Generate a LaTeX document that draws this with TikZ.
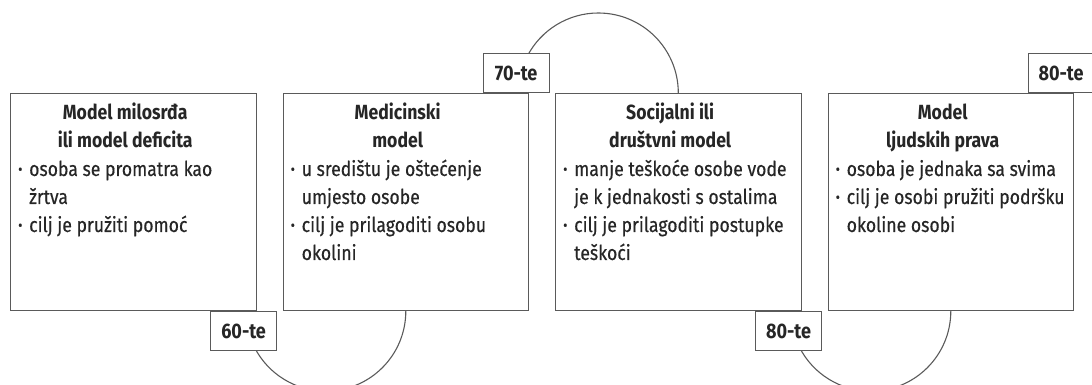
\documentclass[tikz,border=0pt]{standalone}
\usepackage{fontspec}
\setmainfont{Fira Sans}[FakeStretch=0.86, UprightFeatures={FakeBold=0.4}]
\definecolor{txtc}{HTML}{262626}
\definecolor{linec}{HTML}{5A5A5A}
\newcommand\bpt[1]{\par\noindent\hangindent=11pt\hangafter=1\makebox[11pt][l]{\raisebox{0.15ex}{\fontsize{15}{15}\selectfont •}}{\let\\\newline #1}\par}
\newcommand\boxtext[2]{\parbox[t]{240pt}{\fontsize{20.5}{28}\selectfont{\centering\rightskip=26pt plus 1fil\bfseries #1\par}\raggedright #2\par}}
\tikzset{
  box/.style={draw=linec, line width=1.1pt, fill=white, minimum width=245.5pt, minimum height=217pt, anchor=north west, inner sep=0pt},
  txt/.style={inner sep=0pt, anchor=base west, text=txtc},
  lab/.style={draw=linec, line width=1.1pt, fill=white, minimum width=66pt, minimum height=39pt, inner sep=0pt, text=txtc, font=\bfseries\fontsize{21}{21}\selectfont},
  conn/.style={draw=linec, line width=1.1pt}
}
\begin{document}
\begin{tikzpicture}[x=1pt,y=-1pt]
\useasboundingbox (0,0) rectangle (1092,385);
\clip (0,0) rectangle (1092,385);
% boxes
\node[box] (b1) at (10,93) {};
\node[box] (b2) at (282.5,93) {};
\node[box] (b3) at (555,93) {};
\node[box] (b4) at (827.5,93) {};
% connectors (arcs)
\draw[conn] (b2.south) arc[start angle=0, end angle=-153, radius=80pt];
\draw[conn] (b3.north) arc[start angle=0, end angle=153, radius=80pt];
\draw[conn] (b4.south) arc[start angle=0, end angle=-153, radius=80pt];
% texts
\node[txt] (t1) at ([xshift=8pt,yshift=-27pt]b1.north west) {\boxtext{Model milosrđa\\ili model deficita}{\bpt{osoba se promatra kao\\žrtva}\bpt{cilj je pružiti pomoć}}};
\node[txt] (t2) at ([xshift=8pt,yshift=-27pt]b2.north west) {\boxtext{Medicinski\\model}{\bpt{u središtu je oštećenje\\umjesto osobe}\bpt{cilj je prilagoditi osobu\\okolini}}};
\node[txt] (t3) at ([xshift=8pt,yshift=-27pt]b3.north west) {\boxtext{Socijalni ili\\društvni model}{\bpt{manje teškoće osobe vode\\je k jednakosti s ostalima}\bpt{cilj je prilagoditi postupke\\teškoći}}};
\node[txt] (t4) at ([xshift=8pt,yshift=-27pt]b4.north west) {\boxtext{Model\\ljudskih prava}{\bpt{osoba je jednaka sa svima}\bpt{cilj je osobi pružiti podršku\\okoline osobi}}};
% labels
\node[lab, anchor=north] (l60) at ([xshift=-13pt]b1.south east) {60-te};
\node[lab, anchor=south] (l70) at ([xshift=-13pt]b2.north east) {70-te};
\node[lab, anchor=north] (l80a) at ([xshift=-13pt]b3.south east) {80-te};
\node[lab, anchor=south] (l80b) at ([xshift=-13pt]b4.north east) {80-te};
\end{tikzpicture}
\end{document}
